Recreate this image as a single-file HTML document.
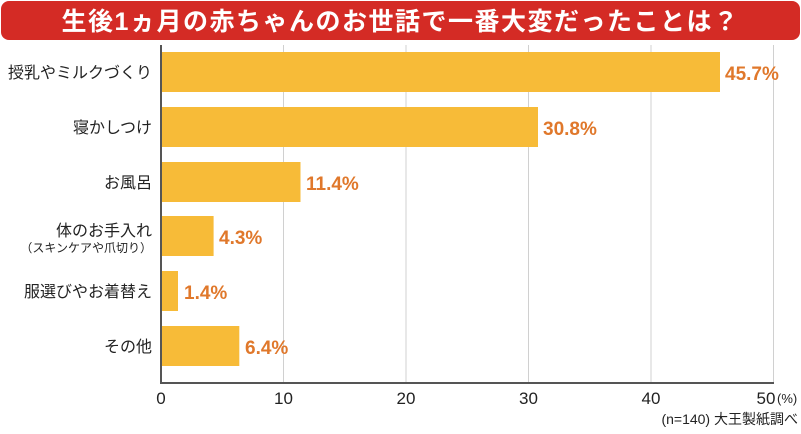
<!DOCTYPE html><html><head><meta charset="utf-8"><style>
body{margin:0;width:801px;height:429px;background:#fff;overflow:hidden;font-family:"Liberation Sans","Noto Sans CJK JP",sans-serif}
</style></head><body>
<svg width="801" height="429" xmlns="http://www.w3.org/2000/svg" font-family="Liberation Sans, Noto Sans CJK JP, sans-serif">
<rect x="1" y="1" width="799" height="39" rx="8" fill="#d42b25"/>
<text x="400.5" y="30" text-anchor="middle" font-size="25" font-weight="bold" fill="#fff" letter-spacing="1.5">生後1ヵ月の赤ちゃんのお世話で一番大変だったことは？</text>
<g stroke="#d0d0d0" stroke-width="1">
<line x1="283.5" y1="45" x2="283.5" y2="383"/><line x1="406" y1="45" x2="406" y2="383"/><line x1="528.5" y1="45" x2="528.5" y2="383"/><line x1="651" y1="45" x2="651" y2="383"/><line x1="773.5" y1="45" x2="773.5" y2="383"/>
</g>
<g fill="#f7bb38">
<rect x="161" y="52" width="559" height="40"/>
<rect x="161" y="107" width="377" height="40"/>
<rect x="161" y="162" width="139.5" height="40"/>
<rect x="161" y="216" width="52.6" height="40"/>
<rect x="161" y="271" width="17" height="40"/>
<rect x="161" y="326" width="78.3" height="40"/>
</g>
<line x1="161" y1="45" x2="161" y2="384" stroke="#555" stroke-width="2"/>
<line x1="160" y1="383" x2="774" y2="383" stroke="#555" stroke-width="2"/>
<g fill="#e0782b" font-size="19" font-weight="bold">
<text x="725" y="80">45.7%</text><text x="543" y="135">30.8%</text><text x="306" y="190">11.4%</text><text x="219" y="244">4.3%</text><text x="184" y="299">1.4%</text><text x="245" y="354">6.4%</text>
</g>
<g fill="#222" font-size="16" text-anchor="end">
<text x="152" y="78">授乳やミルクづくり</text>
<text x="152" y="133">寝かしつけ</text>
<text x="152" y="188">お風呂</text>
<text x="152" y="236">体のお手入れ</text>
<text x="152" y="252" font-size="12">（スキンケアや爪切り）</text>
<text x="152" y="297">服選びやお着替え</text>
<text x="152" y="352">その他</text>
</g>
<g fill="#222" font-size="17" text-anchor="middle">
<text x="161" y="404">0</text><text x="283.5" y="404">10</text><text x="406" y="404">20</text><text x="528.5" y="404">30</text><text x="651" y="404">40</text><text x="766" y="404">50</text>
</g>
<text x="777" y="403" font-size="13" fill="#222">(%)</text>
<text x="798" y="424" font-size="14" fill="#222" text-anchor="end">(n=140) 大王製紙調べ</text>
</svg>
</body></html>
